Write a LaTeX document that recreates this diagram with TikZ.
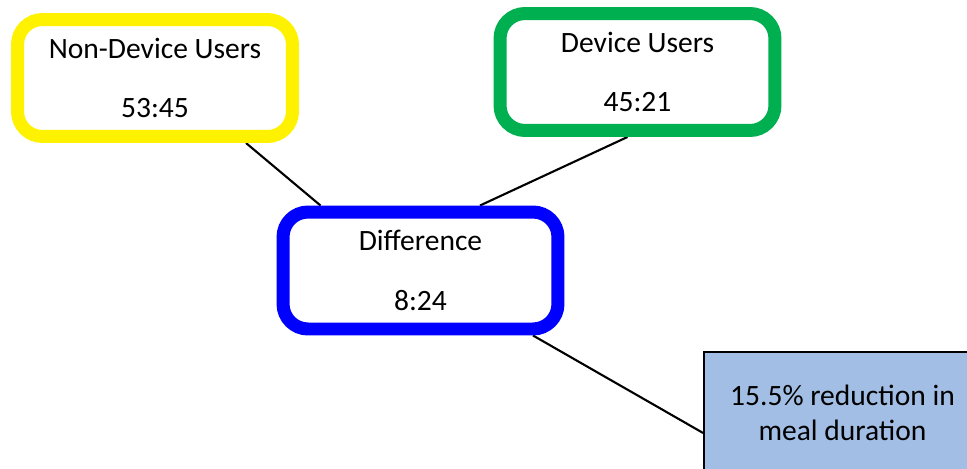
\documentclass[tikz,border=0pt]{standalone}
\usepackage{fontspec}
\setmainfont{Carlito}
\usepackage{xcolor}
\usetikzlibrary{positioning,backgrounds}
\definecolor{devgreen}{RGB}{0,176,80}
\definecolor{resultblue}{RGB}{162,190,228}

\begin{document}
\begin{tikzpicture}[x=0.02cm,y=-0.02cm,
		group/.style={draw,rounded corners=0.5cm,line width=0.26cm,fill=white,minimum width=5.5cm,minimum height=2.34cm,align=center,font=\fontsize{16.8}{34}\selectfont},
		result/.style={draw,line width=1pt,fill=resultblue,minimum width=5.54cm,minimum height=2.42cm,align=center,font=\fontsize{16.8}{20}\selectfont},
		link/.style={line width=1.2pt}]
			\useasboundingbox (0,0) rectangle (967,468);
			\node[group,draw=yellow] (nondev) at (155,78) {Non-Device Users\\53:45};
			\node[group,draw=devgreen] (dev) at (637.5,72) {Device Users\\45:21};
			\node[group,draw=blue] (diff) at (420.5,270.5) {Difference\\8:24};
			\node[result] (cut) at (842.5,412.5) {15.5\% reduction in\\meal duration};

			\begin{pgfonlayer}{background}
			\draw[link] ([xshift=1.82cm]nondev.south) -- ([xshift=-2cm]diff.north);
			\draw[link] ([xshift=-0.2cm]dev.south) -- ([xshift=1.19cm]diff.north);
			\draw[link] ([xshift=2.25cm]diff.south) -- ([yshift=-0.41cm]cut.west);
			\end{pgfonlayer}
\end{tikzpicture}
\end{document}
